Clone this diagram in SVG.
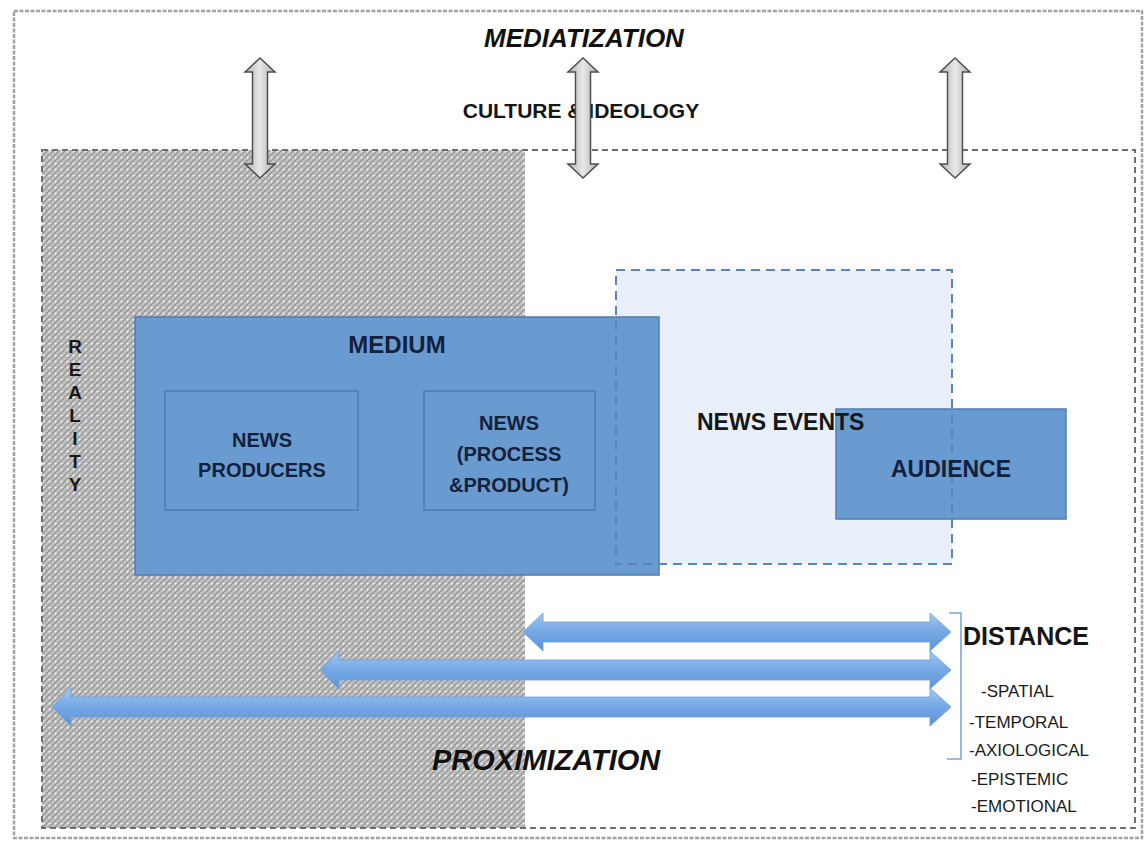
<svg xmlns="http://www.w3.org/2000/svg" width="1144" height="843" viewBox="0 0 1144 843">
  <defs>
    <pattern id="hatch" width="6" height="6" patternUnits="userSpaceOnUse">
      <rect width="6" height="6" fill="#c0c0c0"/>
      <path d="M0,6 L6,0 M-1,1 L1,-1 M5,7 L7,5" stroke="#8e8e8e" stroke-width="1.1"/>
      <circle cx="1.6" cy="1.6" r="1.1" fill="#f0f0f0"/>
    </pattern>
    <linearGradient id="grayArrow" x1="0" y1="0" x2="1" y2="0">
      <stop offset="0" stop-color="#b2b2b2"/>
      <stop offset="0.5" stop-color="#e8e8e8"/>
      <stop offset="1" stop-color="#adadad"/>
    </linearGradient>
    <linearGradient id="blueArrow" x1="0" y1="0" x2="0" y2="1">
      <stop offset="0" stop-color="#a2c8f2"/>
      <stop offset="0.45" stop-color="#78aae6"/>
      <stop offset="1" stop-color="#5d92d6"/>
    </linearGradient>
    <style>
      .t { font-family: "Liberation Sans", Arial, sans-serif; }
      .b { font-weight: bold; }
      .bi { font-weight: bold; font-style: italic; fill: #111; }
      .navy { fill: #14213a; }
      .blk { fill: #161616; }
      .mid { text-anchor: middle; }
      .box { fill: #6a9bd0; stroke: #4e7db5; stroke-width: 1.5; }
      .inner { fill: none; stroke: #4a77ad; stroke-width: 1.3; }
      .garrow { fill: url(#grayArrow); stroke: #4f4f4f; stroke-width: 1.5; }
      .barrow { fill: url(#blueArrow); stroke: #6c9fdc; stroke-width: 0.8; }
      .list { font-size: 17px; fill: #1a1a1a; }
      .rl { font-size: 19px; fill: #1a1a1a; }
    </style>
  </defs>

  <rect width="1144" height="843" fill="#ffffff"/>

  <!-- outer frame -->
  <g id="frame">
    <rect x="14" y="11" width="1128" height="827" fill="none" stroke="#a2a2a2" stroke-width="2.5" stroke-dasharray="4 1.5"/>
  </g>

  <!-- reality (hatched) and inner dashed area -->
  <g id="reality-area">
    <rect x="42" y="150" width="483" height="678" fill="url(#hatch)"/>
    <rect x="42" y="150" width="1093" height="678" fill="none" stroke="#6e6e6e" stroke-width="2" stroke-dasharray="6 4"/>
  </g>

  <!-- top labels -->
  <g id="mediatization">
    <text class="t bi mid" x="584" y="47" font-size="26">MEDIATIZATION</text>
  </g>
  <g id="culture-ideology">
    <text class="t b mid blk" x="581" y="118" font-size="21">CULTURE &amp; IDEOLOGY</text>
  </g>

  <!-- news events fill -->
  <g id="news-events-bg">
    <rect x="616" y="270" width="336" height="294" fill="#e8eff8"/>
  </g>

  <!-- medium -->
  <g id="medium">
    <rect class="box" x="135" y="317" width="524" height="258"/>
    <text class="t b mid navy" x="397" y="353" font-size="24">MEDIUM</text>
  </g>
  <g id="news-producers">
    <rect class="inner" x="165" y="391" width="193" height="119"/>
    <text class="t b mid navy" x="262" y="447" font-size="20">NEWS</text>
    <text class="t b mid navy" x="262" y="477" font-size="20">PRODUCERS</text>
  </g>
  <g id="news-process-product">
    <rect class="inner" x="424" y="391" width="171" height="119"/>
    <text class="t b mid navy" x="509" y="430" font-size="20">NEWS</text>
    <text class="t b mid navy" x="509" y="461" font-size="20">(PROCESS</text>
    <text class="t b mid navy" x="509" y="492" font-size="20">&amp;PRODUCT)</text>
  </g>

  <!-- audience -->
  <g id="audience">
    <rect class="box" x="836" y="409" width="230" height="110"/>
  </g>

  <!-- news events outline and label -->
  <g id="news-events">
    <rect x="616" y="270" width="336" height="294" fill="none" stroke="#5a84ba" stroke-width="2" stroke-dasharray="9 6"/>
    <text class="t b blk" x="697" y="430" font-size="23">NEWS EVENTS</text>
  </g>
  <g id="audience-label">
    <text class="t b mid navy" x="951" y="477" font-size="23">AUDIENCE</text>
  </g>

  <!-- reality label (letters stacked) -->
  <g id="reality-label">
    <text class="t b mid rl" x="75" y="353">R</text>
    <text class="t b mid rl" x="75" y="376">E</text>
    <text class="t b mid rl" x="75" y="399">A</text>
    <text class="t b mid rl" x="75" y="422">L</text>
    <text class="t b mid rl" x="75" y="445">I</text>
    <text class="t b mid rl" x="75" y="468">T</text>
    <text class="t b mid rl" x="75" y="491">Y</text>
  </g>

  <!-- connectors / arrows -->
  <g id="connectors">
    <path class="garrow" d="M260,58 L275,72 L267.5,72 L267.5,164 L275,164 L260,178 L245,164 L252.5,164 L252.5,72 L245,72 Z"/>
    <path class="garrow" d="M583,58 L598,72 L590.5,72 L590.5,164 L598,164 L583,178 L568,164 L575.5,164 L575.5,72 L568,72 Z"/>
    <path class="garrow" d="M955,58 L970,72 L962.5,72 L962.5,164 L970,164 L955,178 L940,164 L947.5,164 L947.5,72 L940,72 Z"/>

    <path class="barrow" d="M523,632 L543,613 L543,622 L930,622 L930,613 L951,632 L930,651 L930,642 L543,642 L543,651 Z"/>
    <path class="barrow" d="M320,670 L339,651 L339,660 L930,660 L930,651 L951,670 L930,689 L930,680 L339,680 L339,689 Z"/>
    <path class="barrow" d="M52,707 L71,688 L71,697 L930,697 L930,688 L951,707 L930,726 L930,717 L71,717 L71,726 Z"/>
  </g>

  <!-- distance bracket and list -->
  <g id="distance">
    <path d="M949,613 L961,613 L961,759 L947,759" fill="none" stroke="#7ea6d8" stroke-width="1.6"/>
    <text class="t b blk" x="963" y="645" font-size="25">DISTANCE</text>
    <text class="t list" x="981" y="697">-SPATIAL</text>
    <text class="t list" x="969" y="728">-TEMPORAL</text>
    <text class="t list" x="969" y="756">-AXIOLOGICAL</text>
    <text class="t list" x="971" y="785">-EPISTEMIC</text>
    <text class="t list" x="971" y="812">-EMOTIONAL</text>
  </g>

  <g id="proximization">
    <text class="t bi" x="432" y="770" font-size="29">PROXIMIZATION</text>
  </g>
</svg>
